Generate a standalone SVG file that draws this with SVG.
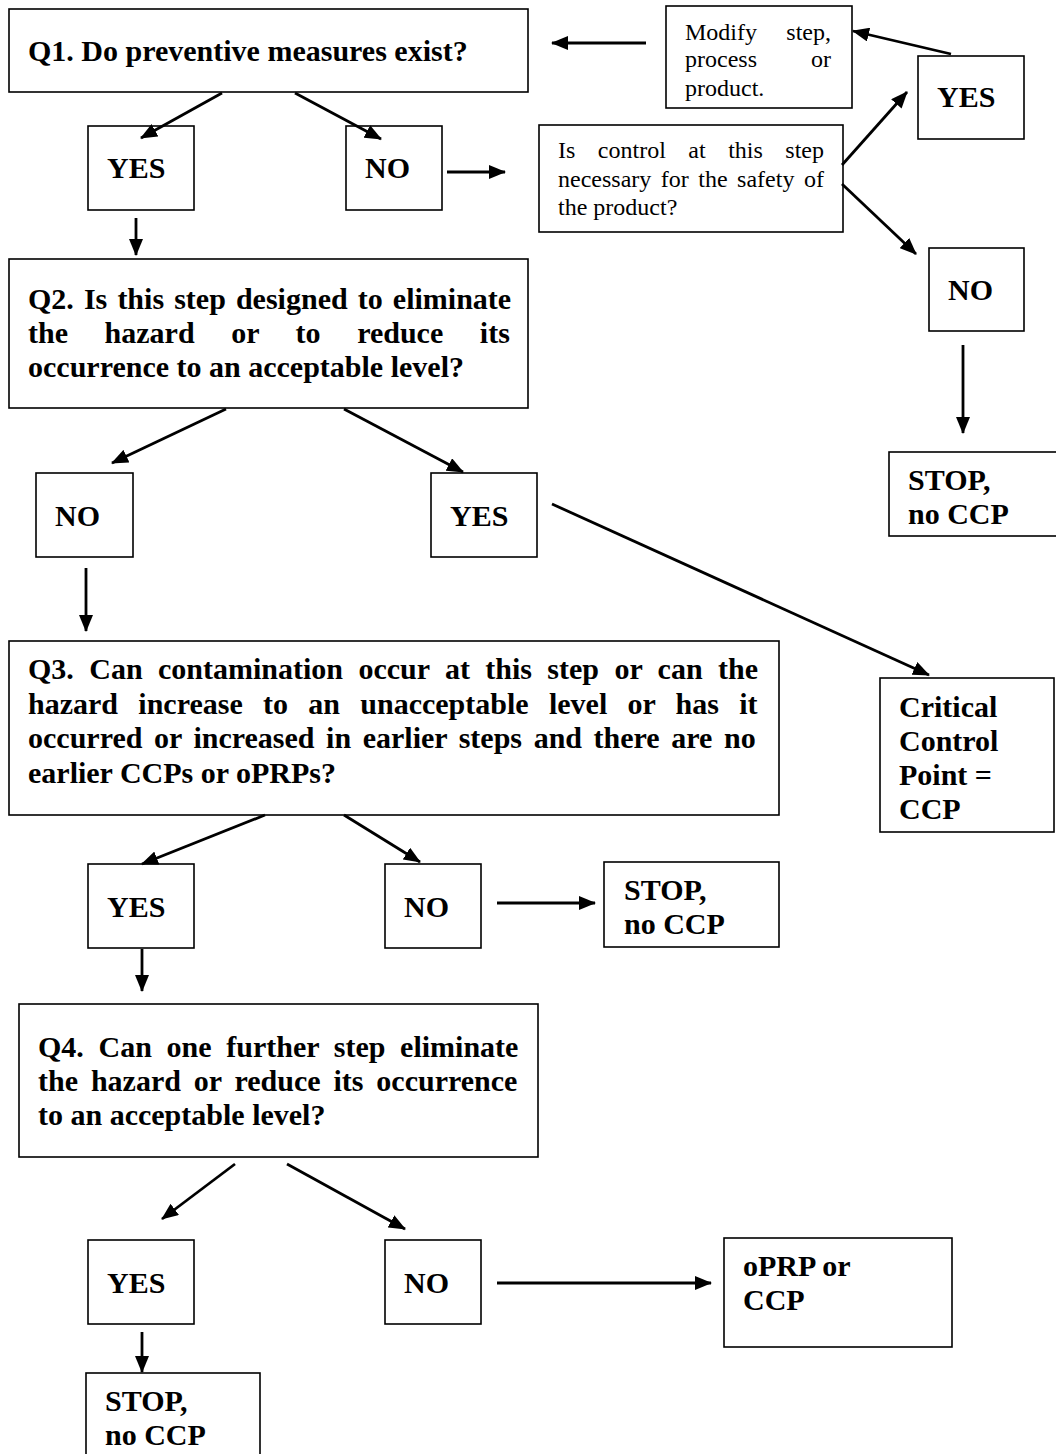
<svg xmlns="http://www.w3.org/2000/svg" width="1056" height="1454" viewBox="0 0 1056 1454">
<style>
.box{fill:#fff;stroke:#000;stroke-width:1.6}
.b{font-family:"Liberation Serif","Times New Roman",serif;font-weight:bold;font-size:30px;fill:#000}
.r{font-family:"Liberation Serif","Times New Roman",serif;font-size:24px;fill:#000}
.c line{stroke:#000;stroke-width:2.8;marker-end:url(#ah)}
</style>
<defs>
<marker id="ah" markerUnits="userSpaceOnUse" markerWidth="18" markerHeight="14" refX="16" refY="7" orient="auto">
<path d="M0,0 L17,7 L0,14 z" fill="#000"/>
</marker>
</defs>
<rect width="1056" height="1454" fill="#fff"/>

<g id="q1"><rect class="box" x="9" y="9" width="519" height="83"/><text class="b" x="28" y="61">Q1. Do preventive measures exist?</text></g>
<g id="modify"><rect class="box" x="666" y="6" width="186" height="102"/>
<text class="r" x="685" y="39.5" word-spacing="23.3">Modify step,</text>
<text class="r" x="685" y="67" word-spacing="48">process or</text>
<text class="r" x="685" y="95.5">product.</text></g>
<g id="yes-tr"><rect class="box" x="918" y="56" width="106" height="83"/><text class="b" x="937" y="107">YES</text></g>
<g id="yes1"><rect class="box" x="88" y="126" width="106" height="84"/><text class="b" x="107" y="178">YES</text></g>
<g id="no1"><rect class="box" x="346" y="126" width="96" height="84"/><text class="b" x="365" y="178">NO</text></g>
<g id="control"><rect class="box" x="539" y="125" width="304" height="107"/>
<text class="r" x="558" y="158" word-spacing="16.5">Is control at this step</text>
<text class="r" x="558" y="186.5" word-spacing="3.5">necessary for the safety of</text>
<text class="r" x="558" y="215">the product?</text></g>
<g id="no-r"><rect class="box" x="929" y="248" width="95" height="83"/><text class="b" x="948" y="300">NO</text></g>
<g id="stop-r"><rect class="box" x="889" y="452" width="172" height="84"/><text class="b" x="908" y="490">STOP,</text><text class="b" x="908" y="524">no CCP</text></g>

<g id="q2"><rect class="box" x="9" y="259" width="519" height="149"/>
<text class="b" x="28" y="309" word-spacing="2.6">Q2. Is this step designed to eliminate</text>
<text class="b" x="28" y="343" word-spacing="29.1">the hazard or to reduce its</text>
<text class="b" x="28" y="377">occurrence to an acceptable level?</text></g>
<g id="no2"><rect class="box" x="36" y="473" width="97" height="84"/><text class="b" x="55" y="526">NO</text></g>
<g id="yes2"><rect class="box" x="431" y="473" width="106" height="84"/><text class="b" x="450" y="526">YES</text></g>
<g id="ccp"><rect class="box" x="880" y="678" width="174" height="154"/>
<text class="b" x="899" y="717">Critical</text><text class="b" x="899" y="751">Control</text><text class="b" x="899" y="785">Point =</text><text class="b" x="899" y="819">CCP</text></g>

<g id="q3"><rect class="box" x="9" y="641" width="770" height="174"/>
<text class="b" x="28" y="679" word-spacing="7.9">Q3. Can contamination occur at this step or can the</text>
<text class="b" x="28" y="713.5" word-spacing="12.8">hazard increase to an unacceptable level or has it</text>
<text class="b" x="28" y="748" word-spacing="4.1">occurred or increased in earlier steps and there are no</text>
<text class="b" x="28" y="782.5">earlier CCPs or oPRPs?</text></g>
<g id="yes3"><rect class="box" x="88" y="864" width="106" height="84"/><text class="b" x="107" y="917">YES</text></g>
<g id="no3"><rect class="box" x="385" y="864" width="96" height="84"/><text class="b" x="404" y="917">NO</text></g>
<g id="stop3"><rect class="box" x="604" y="862" width="175" height="85"/><text class="b" x="624" y="900">STOP,</text><text class="b" x="624" y="934">no CCP</text></g>

<g id="q4"><rect class="box" x="19" y="1004" width="519" height="153"/>
<text class="b" x="38" y="1057" word-spacing="7.2">Q4. Can one further step eliminate</text>
<text class="b" x="38" y="1091" word-spacing="5.4">the hazard or reduce its occurrence</text>
<text class="b" x="38" y="1125">to an acceptable level?</text></g>
<g id="yes4"><rect class="box" x="88" y="1240" width="106" height="84"/><text class="b" x="107" y="1293">YES</text></g>
<g id="no4"><rect class="box" x="385" y="1240" width="96" height="84"/><text class="b" x="404" y="1293">NO</text></g>
<g id="oprp"><rect class="box" x="724" y="1238" width="228" height="109"/><text class="b" x="743" y="1276">oPRP or</text><text class="b" x="743" y="1310">CCP</text></g>
<g id="stop4"><rect class="box" x="86" y="1373" width="174" height="90"/><text class="b" x="105" y="1411">STOP,</text><text class="b" x="105" y="1445">no CCP</text></g>

<g id="connectors" class="c">
<line x1="646" y1="43" x2="552" y2="43"/>
<line x1="951" y1="54" x2="853" y2="31"/>
<line x1="842" y1="165" x2="907" y2="92"/>
<line x1="842" y1="184" x2="916" y2="254"/>
<line x1="963" y1="345" x2="963" y2="433"/>
<line x1="222" y1="93" x2="141" y2="138"/>
<line x1="295" y1="93" x2="381" y2="139"/>
<line x1="447" y1="172" x2="505" y2="172"/>
<line x1="136" y1="218" x2="136" y2="255"/>
<line x1="226" y1="409" x2="112" y2="463"/>
<line x1="344" y1="409" x2="463" y2="472"/>
<line x1="86" y1="568" x2="86" y2="631"/>
<line x1="552" y1="504" x2="929" y2="675"/>
<line x1="265" y1="815" x2="142" y2="864"/>
<line x1="344" y1="815" x2="420" y2="862"/>
<line x1="497" y1="903" x2="595" y2="903"/>
<line x1="142" y1="949" x2="142" y2="991"/>
<line x1="235" y1="1164" x2="162" y2="1219"/>
<line x1="287" y1="1164" x2="405" y2="1229"/>
<line x1="497" y1="1283" x2="711" y2="1283"/>
<line x1="142" y1="1332" x2="142" y2="1372"/>
</g>
</svg>
